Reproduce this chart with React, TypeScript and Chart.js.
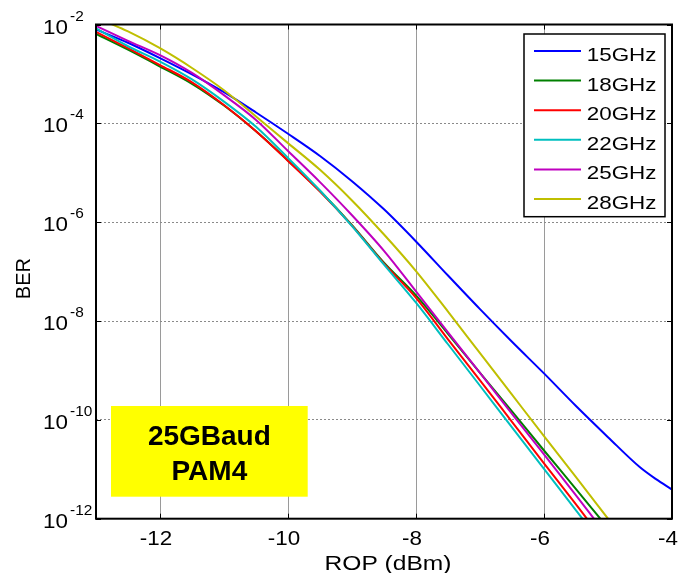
import React, { useEffect, useRef } from "react";
import { Chart, registerables } from "chart.js";

Chart.register(...registerables);

// BER curves versus received optical power, one per bandwidth.
// BER values are given as base-10 exponents.
const seriesLabels = ["15GHz", "18GHz", "20GHz", "22GHz", "25GHz", "28GHz"];
const seriesColors = ["#0000ff", "#008000", "#ff0000", "#00bfbf", "#bf00bf", "#bfbf00"];

const rop15 = [-13, -12.5, -12, -11.5, -11, -10.5, -10, -9.5, -9, -8.5, -8, -7.5, -7, -6.5, -6, -5.5, -5, -4.5, -4.25, -4];
const berExp15 = [-2.1, -2.37, -2.68, -3.01, -3.37, -3.78, -4.21, -4.66, -5.17, -5.74, -6.39, -7.08, -7.76, -8.42, -9.06, -9.72, -10.35, -10.96, -11.2, -11.41];

const rop18 = [-13, -12.5, -12, -11.5, -11, -10.5, -10, -9.5, -9, -8.5, -8, -7.5, -7, -6.5, -6, -5.5, -5.12];
const berExp18 = [-2.19, -2.51, -2.85, -3.2, -3.64, -4.16, -4.75, -5.37, -6.06, -6.82, -7.48, -8.26, -9.05, -9.83, -10.62, -11.4, -12];

const rop20 = [-13, -12.5, -12, -11.5, -11, -10.5, -10, -9.5, -9, -8.5, -8, -7.5, -7, -6.5, -6, -5.5, -5.33];
const berExp20 = [-2.15, -2.48, -2.82, -3.17, -3.63, -4.16, -4.76, -5.38, -6.07, -6.84, -7.53, -8.37, -9.2, -10.04, -10.88, -11.71, -12];

const rop22 = [-13, -12.5, -12, -11.5, -11, -10.5, -10, -9.5, -9, -8.5, -8, -7.5, -7, -6.5, -6, -5.5, -5.4];
const berExp22 = [-2.08, -2.44, -2.75, -3.11, -3.56, -4.07, -4.7, -5.36, -6.08, -6.86, -7.63, -8.47, -9.31, -10.15, -10.99, -11.83, -12];

const rop25 = [-13, -12.5, -12, -11.5, -11, -10.5, -10, -9.5, -9, -8.5, -8, -7.5, -7, -6.5, -6, -5.5, -5.22];
const berExp25 = [-2.03, -2.33, -2.62, -2.98, -3.43, -3.93, -4.56, -5.19, -5.86, -6.58, -7.4, -8.23, -9.05, -9.88, -10.7, -11.53, -12];

const rop28 = [-13, -12.5, -12, -11.5, -11, -10.5, -10, -9.5, -9, -8.5, -8, -7.5, -7, -6.5, -6, -5.5, -5.0];
const berExp28 = [-1.86, -2.14, -2.48, -2.88, -3.33, -3.86, -4.4, -4.94, -5.56, -6.25, -6.99, -7.81, -8.65, -9.49, -10.33, -11.16, -12];

const ropSeries = [rop15, rop18, rop20, rop22, rop25, rop28];
const berExpSeries = [berExp15, berExp18, berExp20, berExp22, berExp25, berExp28];

const xTickValues = [-12, -10, -8, -6, -4];
const yTickExponents = [-12, -10, -8, -6, -4, -2];
const xTitle = "ROP (dBm)";
const yTitle = "BER";
const annotationLines = ["25GBaud", "PAM4"];

const FONT = "'Liberation Sans', Arial, sans-serif";

function stretchedText(
  ctx: CanvasRenderingContext2D,
  text: string,
  x: number,
  y: number,
  align: CanvasTextAlign,
  sx: number
) {
  ctx.save();
  ctx.translate(x, y);
  ctx.scale(sx, 1);
  ctx.textAlign = align;
  ctx.textBaseline = "alphabetic";
  ctx.fillText(text, 0, 0);
  ctx.restore();
}

const decorations = {
  id: "matlabDecorations",
  afterDraw(chart: any) {
    const ctx: CanvasRenderingContext2D = chart.ctx;
    const a = chart.chartArea;
    const xs = chart.scales.x;
    const ys = chart.scales.y;
    ctx.save();

    // axes box
    ctx.strokeStyle = "#000";
    ctx.lineWidth = 2;
    ctx.strokeRect(a.left, a.top, a.right - a.left, a.bottom - a.top);

    // inward tick marks on all four sides
    ctx.lineWidth = 1;
    const tl = 5;
    ctx.beginPath();
    xTickValues.forEach((v) => {
      const px = Math.round(xs.getPixelForValue(v)) + 0.5;
      ctx.moveTo(px, a.bottom);
      ctx.lineTo(px, a.bottom - tl);
      ctx.moveTo(px, a.top);
      ctx.lineTo(px, a.top + tl);
    });
    yTickExponents.forEach((e) => {
      const py = Math.round(ys.getPixelForValue(Math.pow(10, e))) + 0.5;
      ctx.moveTo(a.left, py);
      ctx.lineTo(a.left + tl, py);
      ctx.moveTo(a.right, py);
      ctx.lineTo(a.right - tl, py);
    });
    ctx.stroke();

    ctx.fillStyle = "#000";

    // x tick labels
    ctx.font = `20px ${FONT}`;
    xTickValues.forEach((v) => {
      const px = xs.getPixelForValue(v);
      stretchedText(ctx, String(v), px - 4, a.bottom + 26.5, "center", 1.12);
    });

    // y tick labels as powers of ten
    yTickExponents.forEach((e) => {
      const py = ys.getPixelForValue(Math.pow(10, e));
      ctx.font = `20px ${FONT}`;
      stretchedText(ctx, "10", a.left - 28, py + 9, "right", 1.12);
      ctx.font = `14px ${FONT}`;
      stretchedText(ctx, String(e), a.left - 26, py - 4, "left", 1.1);
    });

    // axis titles
    ctx.font = `21px ${FONT}`;
    stretchedText(ctx, xTitle, (a.left + a.right) / 2 + 4, a.bottom + 51.5, "center", 1.17);
    ctx.save();
    ctx.translate(30, (a.top + a.bottom) / 2 + 7);
    ctx.rotate(-Math.PI / 2);
    ctx.font = `20px ${FONT}`;
    ctx.textAlign = "center";
    ctx.textBaseline = "alphabetic";
    ctx.fillText(yTitle, 0, 0);
    ctx.restore();

    // legend
    const lx = 524;
    const ly = 34;
    const lw = 141;
    const lh = 182.7;
    ctx.fillStyle = "#fff";
    ctx.fillRect(lx, ly, lw, lh);
    ctx.strokeStyle = "#000";
    ctx.lineWidth = 1.5;
    ctx.strokeRect(lx, ly, lw, lh);
    ctx.font = `19px ${FONT}`;
    seriesLabels.forEach((label, i) => {
      const ry = ly + 17 + i * 29.6;
      ctx.strokeStyle = seriesColors[i];
      ctx.lineWidth = 2;
      ctx.beginPath();
      ctx.moveTo(lx + 10, ry);
      ctx.lineTo(lx + 57, ry);
      ctx.stroke();
      ctx.fillStyle = "#000";
      stretchedText(ctx, label, lx + 62.7, ry + 10, "left", 1.18);
    });

    // yellow annotation box
    const bx = a.left + 15;
    const by = a.top + 381.5;
    const bw = 196.7;
    const bh = 90.7;
    ctx.fillStyle = "#ffff00";
    ctx.fillRect(bx, by, bw, bh);
    ctx.fillStyle = "#000";
    ctx.font = `bold 28px ${FONT}`;
    ctx.textAlign = "center";
    ctx.textBaseline = "alphabetic";
    annotationLines.forEach((t, i) => {
      ctx.fillText(t, bx + bw / 2, by + 39 + i * 35);
    });

    ctx.restore();
  },
};

export default function App() {
  const canvasRef = useRef<HTMLCanvasElement>(null);

  useEffect(() => {
    const canvas = canvasRef.current;
    if (!canvas) return;
    const datasets = seriesLabels.map((label, i) => ({
      label,
      data: ropSeries[i].map((r, j) => ({ x: r, y: Math.pow(10, berExpSeries[i][j]) })),
      borderColor: seriesColors[i],
      backgroundColor: seriesColors[i],
      borderWidth: 2,
      pointRadius: 0,
      fill: false,
      cubicInterpolationMode: "monotone" as const,
      capBezierPoints: false,
      clip: 0,
      order: seriesLabels.length - i,
    }));

    const chart = new Chart(canvas, {
      type: "line",
      data: { datasets },
      options: {
        animation: false,
        responsive: false,
        devicePixelRatio: 1,
        events: [],
        layout: { padding: { left: 96, right: 8, top: 24.5, bottom: 54.3 } },
        plugins: {
          legend: { display: false },
          tooltip: { enabled: false },
        },
        scales: {
          x: {
            type: "linear",
            min: -13,
            max: -4,
            afterBuildTicks: (s: any) => {
              s.ticks = xTickValues.map((v) => ({ value: v }));
            },
            afterFit: (s: any) => {
              s.height = 0;
            },
            ticks: { display: false },
            grid: { color: "#9a9a9a", lineWidth: 1, drawTicks: false },
            border: { display: false },
          },
          y: {
            type: "logarithmic",
            min: 1e-12,
            max: 1e-2,
            afterBuildTicks: (s: any) => {
              s.ticks = yTickExponents.map((e) => ({ value: Math.pow(10, e) }));
            },
            afterFit: (s: any) => {
              s.width = 0;
            },
            ticks: { display: false },
            grid: { color: "#8a8a8a", lineWidth: 1, drawTicks: false },
            border: { display: false, dash: [2, 2] },
          },
        },
      },
      plugins: [decorations],
    } as any);

    return () => chart.destroy();
  }, []);

  return (
    <div style={{ position: "fixed", left: 0, top: 0, width: 680, height: 573, background: "#fff" }}>
      <canvas ref={canvasRef} width={680} height={573} style={{ display: "block", width: 680, height: 573 }} />
    </div>
  );
}
